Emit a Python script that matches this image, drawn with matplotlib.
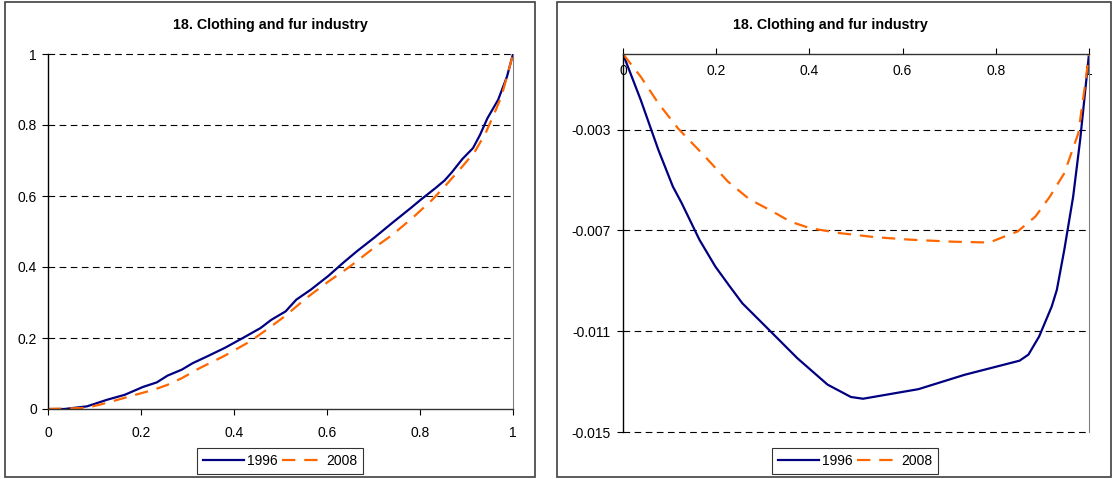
import matplotlib
matplotlib.use("Agg")
import matplotlib.pyplot as plt
from matplotlib.patches import Rectangle

plt.rcParams['font.family'] = ['Liberation Sans', 'DejaVu Sans']

title = "18. Clothing and fur industry"
series_names = ["1996", "2008"]
colors = ["#000080", "#FF6600"]

# Left panel: concentration (Lorenz-type) curves
left_x_1996 = [0, 0.035, 0.084, 0.127, 0.165, 0.204, 0.234, 0.257, 0.288, 0.311, 0.342, 0.380,
               0.419, 0.457, 0.480, 0.511, 0.534, 0.565, 0.603, 0.634, 0.664, 0.703, 0.741,
               0.780, 0.803, 0.833, 0.853, 0.868, 0.891, 0.914, 0.929, 0.945, 0.968, 0.987, 1.0]
left_y_1996 = [0, 0, 0.0075, 0.026, 0.040, 0.062, 0.075, 0.094, 0.111, 0.129, 0.148, 0.172,
               0.200, 0.228, 0.251, 0.275, 0.308, 0.336, 0.375, 0.411, 0.444, 0.484, 0.525,
               0.566, 0.591, 0.622, 0.644, 0.666, 0.704, 0.735, 0.772, 0.819, 0.871, 0.936, 1.0]
left_x_2008 = [0, 0.081, 0.111, 0.150, 0.188, 0.227, 0.257, 0.288, 0.326, 0.380, 0.434, 0.472,
               0.511, 0.557, 0.603, 0.649, 0.695, 0.741, 0.787, 0.826, 0.856, 0.891, 0.918,
               0.941, 0.960, 0.975, 0.991, 1.0]
left_y_2008 = [0, 0.003, 0.012, 0.026, 0.040, 0.054, 0.068, 0.087, 0.115, 0.150, 0.190, 0.225,
               0.263, 0.314, 0.359, 0.401, 0.448, 0.491, 0.542, 0.589, 0.631, 0.683, 0.725,
               0.777, 0.833, 0.880, 0.955, 1.0]
left_ticks = [0, 0.2, 0.4, 0.6, 0.8, 1]
left_ticklabels = ["0", "0.2", "0.4", "0.6", "0.8", "1"]

# Right panel: deviation curves
right_x_1996 = [0, 0.038, 0.076, 0.107, 0.126, 0.164, 0.198, 0.229, 0.256, 0.313, 0.374, 0.439,
                0.489, 0.515, 0.634, 0.733, 0.851, 0.870, 0.893, 0.920, 0.931, 0.947, 0.966,
                0.981, 1.0]
right_y_1996 = [0, -0.00182, -0.00381, -0.00526, -0.00592, -0.00737, -0.00843, -0.00922,
                -0.00989, -0.01094, -0.01207, -0.01312, -0.01361, -0.01368, -0.01330, -0.01273,
                -0.01217, -0.01193, -0.01121, -0.01002, -0.00936, -0.00777, -0.00566, -0.00341, 0]
right_x_2008 = [0, 0.038, 0.076, 0.118, 0.176, 0.225, 0.271, 0.321, 0.359, 0.401, 0.466, 0.542,
                0.618, 0.710, 0.786, 0.847, 0.885, 0.916, 0.947, 0.977, 0.992, 1.0]
right_y_2008 = [0, -0.0009, -0.00196, -0.00295, -0.00407, -0.00506, -0.00576, -0.00625, -0.00665,
                -0.00691, -0.00711, -0.00727, -0.00737, -0.00745, -0.00748, -0.00704, -0.00645,
                -0.00566, -0.00473, -0.00315, -0.00116, 0]
right_xticks = [0, 0.2, 0.4, 0.6, 0.8, 1]
right_xticklabels = ["0", "0.2", "0.4", "0.6", "0.8", "1"]
right_yticks = [-0.015, -0.011, -0.007, -0.003]
right_yticklabels = ["-0.015", "-0.011", "-0.007", "-0.003"]

W, H = 1113, 479
fig = plt.figure(figsize=(W / 100, H / 100), dpi=100)


def box(x0, y0, x1, y1):
    # pixel box (top-left origin) -> figure fraction rect
    return [x0 / W, 1 - y1 / H, (x1 - x0) / W, (y1 - y0) / H]


# panel borders
for (x0, y0, x1, y1) in [(5, 2, 535, 477), (557, 2, 1111, 477)]:
    fig.patches.append(Rectangle((x0 / W, 1 - y1 / H), (x1 - x0) / W, (y1 - y0) / H,
                                 transform=fig.transFigure, fill=False,
                                 edgecolor="#404040", linewidth=1.2))

grid_kw = dict(color="black", linewidth=0.8, dashes=(6, 4), clip_on=False)
fs = 10
tfs = 10.3

# ---------- left ----------
axL = fig.add_axes(box(48, 54, 513, 409))
l1, = axL.plot(left_x_1996, left_y_1996, color=colors[0], linewidth=1.6, label=series_names[0])
l2, = axL.plot(left_x_2008, left_y_2008, color=colors[1], linewidth=1.6, dashes=(6, 4),
               label=series_names[1])
axL.set_xlim(0, 1)
axL.set_ylim(0, 1)
for v in [0.2, 0.4, 0.6, 0.8, 1.0]:
    axL.axhline(v, zorder=0, **grid_kw)
axL.set_xticks(left_ticks)
axL.set_xticklabels(left_ticklabels)
axL.set_yticks(left_ticks)
axL.set_yticklabels(left_ticklabels)
axL.tick_params(axis='x', direction='out', length=4, width=0.8, pad=8, labelsize=fs)
axL.tick_params(axis='y', direction='out', length=4, width=0.8, pad=4, labelsize=fs)
axL.spines['top'].set_visible(False)
axL.spines['right'].set_color("#808080")
axL.spines['left'].set_linewidth(1.0)
axL.spines['bottom'].set_linewidth(1.0)
axL.spines['bottom'].set_color("#333333")
fig.text(270 / W, 1 - 25 / H, title, ha='center', va='center', fontsize=tfs, fontweight='bold')
legL = fig.legend(handles=[l1, l2], loc='center', bbox_to_anchor=(280 / W, 1 - 461 / H),
                  ncol=2, frameon=True, fontsize=fs, handlelength=3.0, handletextpad=0.2,
                  columnspacing=0.3, borderpad=0.4, fancybox=False, edgecolor='black')
legL.get_frame().set_linewidth(0.8)

# ---------- right ----------
axR = fig.add_axes(box(623, 54, 1089, 432))
r1, = axR.plot(right_x_1996, right_y_1996, color=colors[0], linewidth=1.6, label=series_names[0])
r2, = axR.plot(right_x_2008, right_y_2008, color=colors[1], linewidth=1.6, dashes=(6, 4),
               label=series_names[1])
axR.set_xlim(0, 1)
axR.set_ylim(-0.015, 0)
for v in right_yticks:
    axR.axhline(v, zorder=0, **grid_kw)
axR.xaxis.tick_top()
axR.set_xticks(right_xticks)
axR.set_xticklabels(right_xticklabels)
axR.set_yticks(right_yticks)
axR.set_yticklabels(right_yticklabels)
axR.tick_params(axis='x', direction='out', length=4, width=0.8, pad=-21, labelsize=fs)
axR.tick_params(axis='y', direction='out', length=4, width=0.8, pad=5, labelsize=fs)
axR.spines['bottom'].set_visible(False)
axR.spines['right'].set_color("#808080")
axR.spines['left'].set_linewidth(1.0)
axR.spines['top'].set_linewidth(1.0)
axR.spines['top'].set_color("#333333")
for lab in axR.get_xticklabels():
    lab.set_zorder(5)
fig.text(830 / W, 1 - 25 / H, title, ha='center', va='center', fontsize=tfs, fontweight='bold')
legR = fig.legend(handles=[r1, r2], loc='center', bbox_to_anchor=(855 / W, 1 - 461 / H),
                  ncol=2, frameon=True, fontsize=fs, handlelength=3.0, handletextpad=0.2,
                  columnspacing=0.3, borderpad=0.4, fancybox=False, edgecolor='black')
legR.get_frame().set_linewidth(0.8)

fig.savefig("out.png", dpi=100)
